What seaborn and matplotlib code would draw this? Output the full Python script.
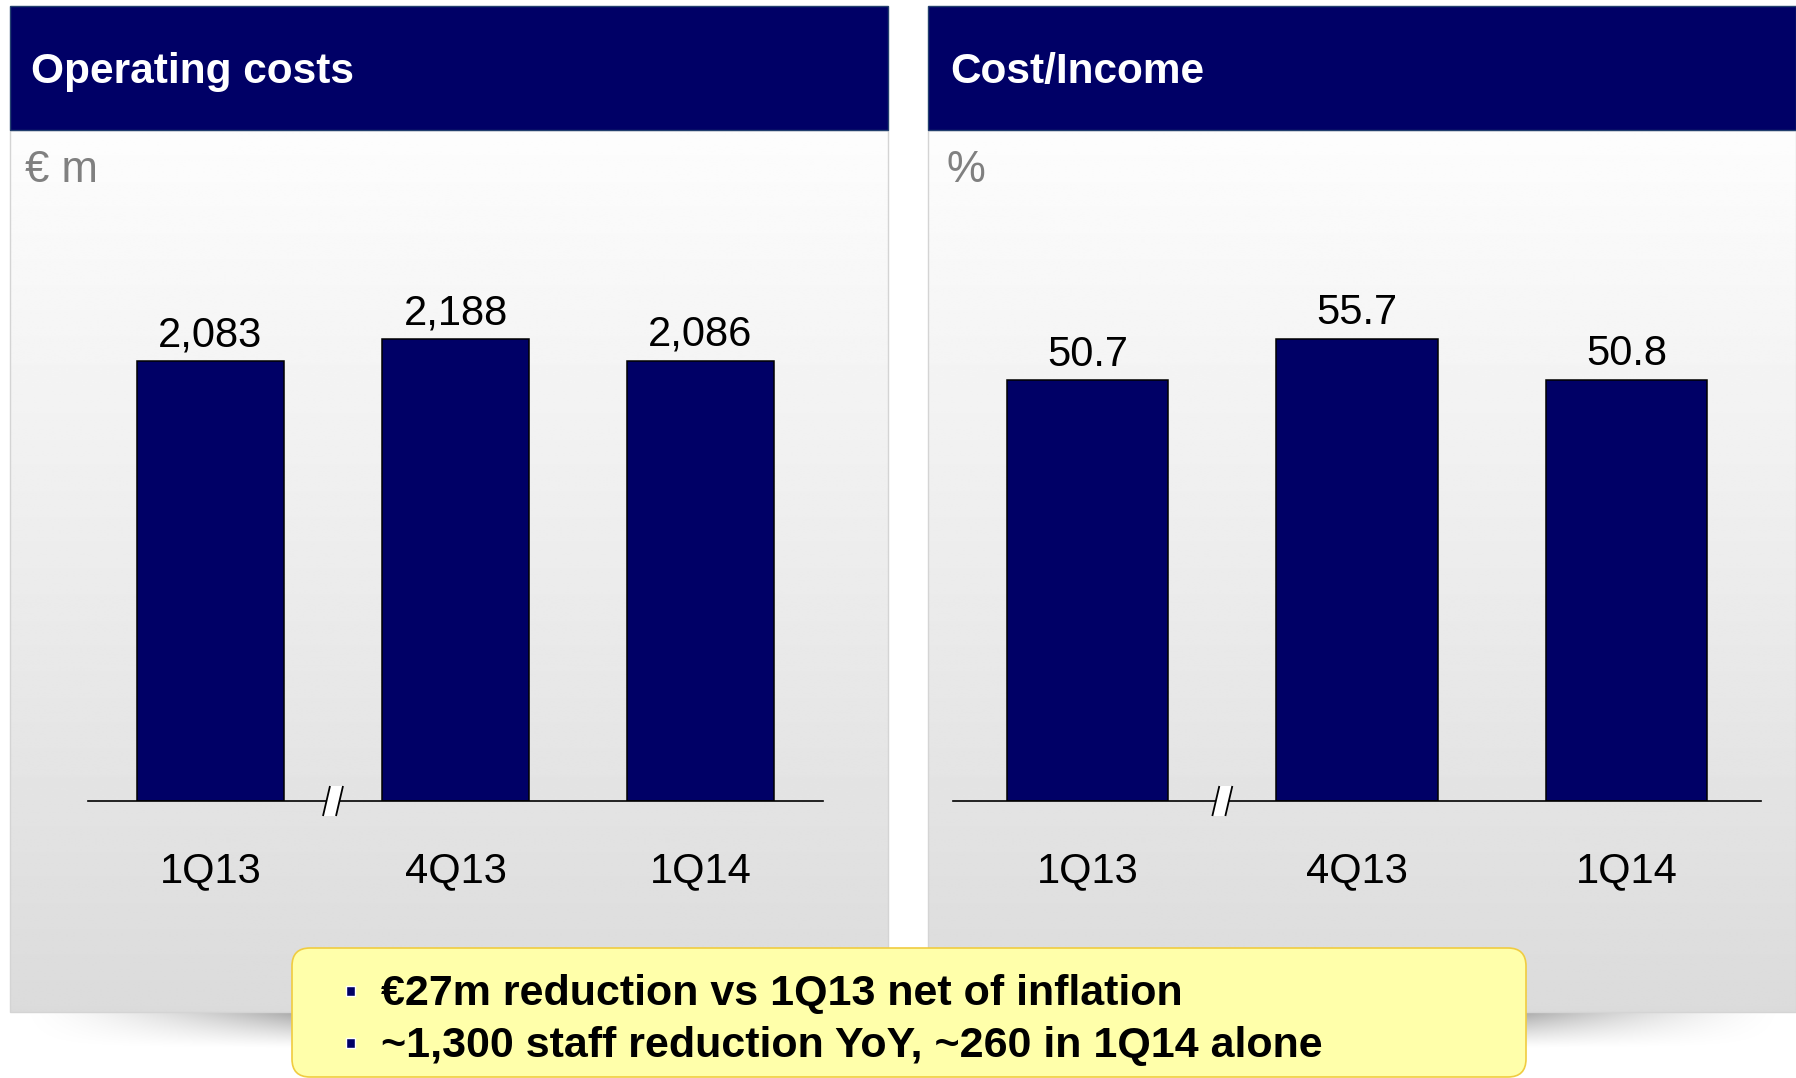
import numpy as np
import pandas as pd
import matplotlib
matplotlib.use("Agg")
import matplotlib.pyplot as plt
from matplotlib.patches import Rectangle, FancyBboxPatch, Polygon
import seaborn as sns

# ---- data -------------------------------------------------------------
quarters = ["1Q13", "4Q13", "1Q14"]
operating_costs = [2083, 2188, 2086]      # EUR m
cost_income = [50.7, 55.7, 50.8]          # %
panel_titles = ["Operating costs", "Cost/Income"]
panel_units = ["€ m", "%"]
value_formats = ["{:,.0f}", "{:.1f}"]
highlights = [
    "€27m reduction vs 1Q13 net of inflation",
    "~1,300 staff reduction YoY, ~260 in 1Q14 alone",
]

# ---- style ------------------------------------------------------------
W, H = 1796, 1078
NAVY = "#000066"
sns.set_style("white")
plt.rcParams["font.family"] = ["Liberation Sans", "DejaVu Sans"]

fig = plt.figure(figsize=(W / 100, H / 100), dpi=100)
fig.patch.set_facecolor("white")

# background layer in pixel coordinates
bg = fig.add_axes([0, 0, 1, 1], zorder=0)
bg.axis("off")

HEAD_TOP, HEAD_BOT, PANEL_BOT = 6, 130, 1012
panels = [
    dict(x0=10, x1=888, title_x=31, unit_x=25),
    dict(x0=928, x1=W, title_x=950, unit_x=946),
]

ramp = np.linspace(253, 219, 400) / 255.0
grad = np.repeat(ramp[:, None], 2, axis=1)
for p, title, unit in zip(panels, panel_titles, panel_units):
    bg.imshow(grad, cmap="gray", vmin=0, vmax=1, aspect="auto",
              extent=(p["x0"], p["x1"], PANEL_BOT, HEAD_BOT),
              interpolation="bilinear", zorder=1)
    bg.add_patch(Rectangle((p["x0"], HEAD_BOT), p["x1"] - p["x0"],
                           PANEL_BOT - HEAD_BOT, fill=False,
                           edgecolor="#d4d4d4", lw=1, zorder=2))
    bg.add_patch(Rectangle((p["x0"], HEAD_TOP), p["x1"] - p["x0"],
                           HEAD_BOT - HEAD_TOP, facecolor=NAVY,
                           edgecolor="#23406e", lw=1, zorder=3))
    bg.text(p["title_x"], 83, title, color="white", fontsize=30.5,
            fontweight="bold", ha="left", va="baseline", zorder=4)
    bg.text(p["unit_x"], 182, unit, color="#808080", fontsize=31.5,
            ha="left", va="baseline", zorder=4)

# soft shadow under the panels
ys = np.arange(PANEL_BOT, 1052)
xs = np.arange(0, W)
X, Y = np.meshgrid(xs, ys)
left = 0.34 * np.clip((X - 12) / 280.0, 0, None) ** 1.6
right = 0.34 * np.clip((W - 4 - X) / 270.0, 0, None) ** 1.6
hx = np.clip(np.where(X < 908, left, right), 0, 0.36)
vy = np.clip(1 - (Y - PANEL_BOT) / 36.0, 0, 1) ** 1.2
shadow = np.zeros((len(ys), W, 4))
shadow[..., 3] = hx * vy
bg.imshow(shadow, extent=(0, W, 1052, PANEL_BOT), aspect="auto", zorder=1.5)

# highlight box
bg.add_patch(FancyBboxPatch((292, 948), 1234, 129,
                            boxstyle="round,pad=0,rounding_size=18",
                            facecolor="#ffffaa", edgecolor="#f0cc40",
                            lw=1.2, zorder=5))
for i, line in enumerate(highlights):
    base = 1005 + 52 * i
    bg.add_patch(Rectangle((346, base - 19), 9, 10, facecolor=NAVY, zorder=6))
    bg.text(381, base, line, fontsize=31, fontweight="bold", color="black",
            ha="left", va="baseline", zorder=6)

bg.set_xlim(0, W)
bg.set_ylim(H, 0)

# ---- bar charts -------------------------------------------------------
PX_BASE, PX_TOP_MAX = 801, 339
chart_specs = [
    dict(x0=88, x1=823, values=operating_costs, ytop=2600, fmt=value_formats[0]),
    dict(x0=953, x1=1761, values=cost_income, ytop=66, fmt=value_formats[1]),
]

fg = fig.add_axes([0, 0, 1, 1], zorder=3)
fg.axis("off")
fg.patch.set_alpha(0)

for spec in chart_specs:
    scale = (PX_BASE - PX_TOP_MAX) / max(spec["values"])
    h_px = spec["ytop"] * scale
    ax = fig.add_axes([spec["x0"] / W, (H - PX_BASE) / H,
                       (spec["x1"] - spec["x0"]) / W, h_px / H], zorder=2)
    df = pd.DataFrame({"quarter": quarters, "value": spec["values"]})
    sns.barplot(data=df, x="quarter", y="value", ax=ax, color=NAVY,
                saturation=1, edgecolor="black", linewidth=1.1, width=0.6)
    ax.bar_label(ax.containers[0], fmt=spec["fmt"], padding=4,
                 fontsize=30, color="black")
    ax.set_xlim(-0.5, 2.5)
    ax.set_ylim(0, spec["ytop"])
    ax.patch.set_alpha(0)
    for side in ("top", "right", "left"):
        ax.spines[side].set_visible(False)
    ax.spines["bottom"].set_color("black")
    ax.spines["bottom"].set_linewidth(1.2)
    ax.set_yticks([])
    ax.set_xlabel("")
    ax.set_ylabel("")
    ax.tick_params(axis="x", length=0, pad=36, labelsize=30, labelcolor="black")

    # axis break between 1Q13 and 4Q13
    c = spec["x0"] + (spec["x1"] - spec["x0"]) / 3.0
    fg.add_patch(Polygon([(c - 10, 816), (c - 3, 786), (c + 10, 786), (c + 3, 816)],
                         closed=True, facecolor="white", edgecolor="none", zorder=3))
    fg.plot([c - 10, c - 3], [816, 786], color="black", lw=1.3, zorder=4,
            solid_capstyle="butt")
    fg.plot([c + 3, c + 10], [816, 786], color="black", lw=1.3, zorder=4,
            solid_capstyle="butt")

fg.set_xlim(0, W)
fg.set_ylim(H, 0)

fig.savefig("out.png", dpi=100, facecolor="white")
